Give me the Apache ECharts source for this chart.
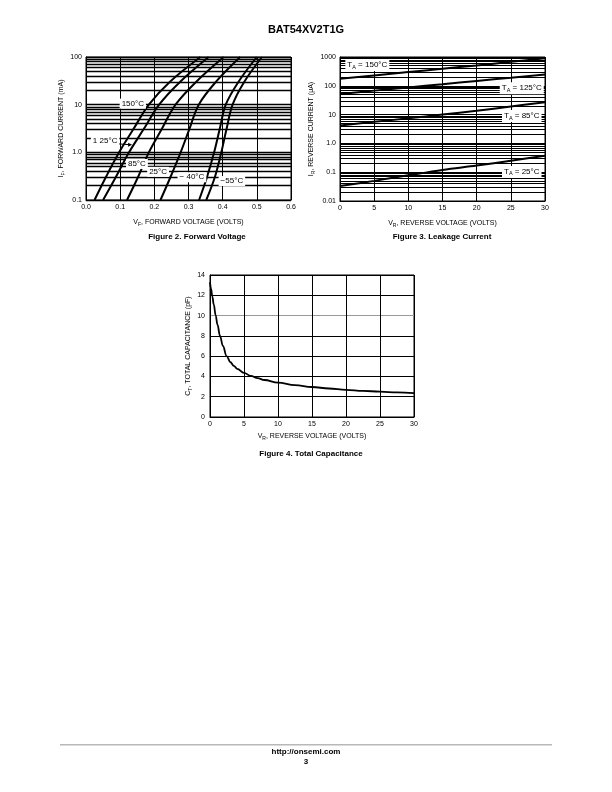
<!DOCTYPE html>
<html><head><meta charset="utf-8">
<script src="https://cdn.jsdelivr.net/npm/echarts@6/dist/echarts.min.js"></script>
<style>html,body{margin:0;padding:0;background:#fff}#c{width:612px;height:792px}</style>
</head><body><div id="c"></div>
<script>
// ---- Figure 2: Forward Voltage (V at given currents, mA)
const fvCurrents = [0.1, 0.3, 1, 3, 10, 30, 100];
const fv150 = [0.025, 0.058, 0.097, 0.138, 0.184, 0.245, 0.335];
const fv125 = [0.050, 0.087, 0.126, 0.168, 0.214, 0.275, 0.359];
const fv85  = [0.120, 0.152, 0.184, 0.221, 0.262, 0.322, 0.403];
const fv25  = [0.218, 0.247, 0.277, 0.302, 0.330, 0.380, 0.451];
const fvM40 = [0.331, 0.354, 0.375, 0.391, 0.409, 0.446, 0.500];
const fvM55 = [0.352, 0.377, 0.396, 0.411, 0.429, 0.463, 0.515];
const fvTicks = ['0.0','0.1','0.2','0.3','0.4','0.5','0.6'];
const ifTicks = {0.1:'0.1', 1:'1.0', 10:'10', 100:'100'};

// ---- Figure 3: Leakage Current (uA vs V)
const lcVoltage = [0, 5, 10, 15, 20, 25, 30];
const lc150 = [175, 230, 300, 390, 510, 680, 900];
const lc125 = [52, 68, 88, 113, 148, 190, 245];
const lc85  = [4.2, 5.6, 7.4, 10, 13.5, 19, 27];
const lc25  = [0.033, 0.05, 0.078, 0.12, 0.17, 0.25, 0.37];
const irTicks = {0.01:'0.01', 0.1:'0.1', 1:'1.0', 10:'10', 100:'100', 1000:'1000'};

// ---- Figure 4: Total Capacitance (pF vs V)
const capVoltage = [0, 0.15, 0.34, 0.55, 0.84, 1.1, 1.47, 1.9, 2.45, 3, 3.5, 4, 5, 6, 7, 8, 10, 12.5, 15, 17.5, 20, 22.5, 25, 27.5, 30];
const capValue   = [13.3, 12.65, 11.9, 11.1, 10.0, 9.1, 8.0, 7.0, 6.0, 5.4, 5.05, 4.75, 4.35, 4.05, 3.83, 3.65, 3.38, 3.14, 2.96, 2.81, 2.68, 2.58, 2.5, 2.42, 2.35];

const FONT = "'Liberation Sans', Arial, Helvetica, sans-serif";
const chart = echarts.init(document.getElementById('c'), null, {renderer: 'canvas'});

function minorVals(lo, hi) {
  const out = [];
  for (let d = lo; d < hi; d *= 10) {
    for (let k = 1; k <= 10; k++) out.push(+(d * k).toPrecision(6));
  }
  return Array.from(new Set(out)).filter(v => v >= lo && v <= hi);
}
function pairs(xs, ys) { return xs.map((x, i) => [x, ys[i]]); }

const rich = {
  a: {fontFamily: FONT, fontSize: 7, color: '#000', lineHeight: 10},
  s: {fontFamily: FONT, fontSize: 5, color: '#000', lineHeight: 10, verticalAlign: 'bottom', padding: [4, 0, 0, 0]}
};
const axisLbl = {fontFamily: FONT, fontSize: 7, color: '#000'};
const blackLine = {lineStyle: {color: '#000', width: 1}};

function gridLineSeries(xi, yi, vals, width) {
  return {
    type: 'line', xAxisIndex: xi, yAxisIndex: yi, data: [], silent: true, z: 1,
    markLine: {
      silent: true, symbol: ['none', 'none'], animation: false,
      label: {show: false},
      lineStyle: {color: '#000', width: width, type: 'solid'},
      emphasis: {disabled: true},
      data: vals.map(v => ({yAxis: v}))
    }
  };
}
function curve(xi, yi, data, w, extra) {
  return Object.assign({type: 'line', xAxisIndex: xi, yAxisIndex: yi, data: data, smooth: 0.35, showSymbol: false,
    symbol: 'none', lineStyle: {color: '#000', width: w}, z: 5, silent: true, animation: false}, extra || {});
}

const option = {
  animation: false,
  grid: [
    {left: 86, top: 57, width: 205, height: 143, show: true, borderColor: '#000', borderWidth: 1, backgroundColor: 'transparent'},
    {left: 340, top: 57, width: 205, height: 144, show: true, borderColor: '#000', borderWidth: 1, backgroundColor: 'transparent'},
    {left: 210, top: 275, width: 204, height: 142, show: true, borderColor: '#000', borderWidth: 1, backgroundColor: 'transparent'}
  ],
  xAxis: [
    {gridIndex: 0, type: 'value', min: 0, max: 0.6, interval: 0.1,
      axisLine: blackLine, axisTick: {show: false},
      axisLabel: Object.assign({margin: 4, formatter: (v) => fvTicks[Math.round(v * 10)]}, axisLbl),
      splitLine: {show: true, lineStyle: {color: '#000', width: 1}},
      name: '{a|V}{s|F}{a|, FORWARD VOLTAGE (VOLTS)}', nameLocation: 'middle', nameGap: 17,
      nameTextStyle: {rich: rich}},
    {gridIndex: 1, type: 'value', min: 0, max: 30, interval: 5,
      axisLine: blackLine, axisTick: {show: false},
      axisLabel: Object.assign({margin: 4}, axisLbl),
      splitLine: {show: true, lineStyle: {color: '#000', width: 1}},
      name: '{a|V}{s|R}{a|, REVERSE VOLTAGE (VOLTS)}', nameLocation: 'middle', nameGap: 17,
      nameTextStyle: {rich: rich}},
    {gridIndex: 2, type: 'value', min: 0, max: 30, interval: 5,
      axisLine: blackLine, axisTick: {show: false},
      axisLabel: Object.assign({margin: 4}, axisLbl),
      splitLine: {show: true, lineStyle: {color: '#000', width: 1}},
      name: '{a|V}{s|R}{a|, REVERSE VOLTAGE (VOLTS)}', nameLocation: 'middle', nameGap: 14,
      nameTextStyle: {rich: rich}}
  ],
  yAxis: [
    {gridIndex: 0, type: 'log', logBase: 10, min: 0.1, max: 100,
      axisLine: blackLine, axisTick: {show: false},
      axisLabel: Object.assign({margin: 4, formatter: (v) => ifTicks[v] || ''}, axisLbl),
      splitLine: {show: false},
      name: '{a|I}{s|F}{a|, FORWARD CURRENT (mA)}', nameLocation: 'middle', nameGap: 14, nameRotate: 90,
      nameTextStyle: {rich: rich}},
    {gridIndex: 1, type: 'log', logBase: 10, min: 0.01, max: 1000,
      axisLine: blackLine, axisTick: {show: false},
      axisLabel: Object.assign({margin: 4, formatter: (v) => irTicks[v] || ''}, axisLbl),
      splitLine: {show: false},
      name: '{a|I}{s|R}{a|, REVERSE CURRENT (\u03bcA)}', nameLocation: 'middle', nameGap: 20, nameRotate: 90,
      nameTextStyle: {rich: rich}},
    {gridIndex: 2, type: 'value', min: 0, max: 14, interval: 2,
      axisLine: blackLine, axisTick: {show: false},
      axisLabel: Object.assign({margin: 5}, axisLbl),
      splitLine: {show: true, lineStyle: {color: ['#000','#000','#000','#000','#000','#999','#000','#000'], width: 1}},
      name: '{a|C}{s|T}{a|, TOTAL CAPACITANCE (pF)}', nameLocation: 'middle', nameGap: 17, nameRotate: 90,
      nameTextStyle: {rich: rich}}
  ],
  series: [
    gridLineSeries(0, 0, minorVals(0.1, 100), 1.3),
    gridLineSeries(1, 1, minorVals(0.01, 1000), 1.1),
    curve(0, 0, pairs(fv150, fvCurrents), 2),
    curve(0, 0, pairs(fv125, fvCurrents), 2),
    curve(0, 0, pairs(fv85, fvCurrents), 2),
    curve(0, 0, pairs(fv25, fvCurrents), 2),
    curve(0, 0, pairs(fvM40, fvCurrents), 2),
    curve(0, 0, pairs(fvM55, fvCurrents), 2),
    curve(1, 1, pairs(lcVoltage, lc150), 2),
    curve(1, 1, pairs(lcVoltage, lc125), 2),
    curve(1, 1, pairs(lcVoltage, lc85), 2),
    curve(1, 1, pairs(lcVoltage, lc25), 2),
    curve(2, 2, pairs(capVoltage, capValue), 1.8, {smooth: 0.4, smoothMonotone: 'x'})
  ]
};
chart.setOption(option);

// ---- annotations (positioned from data coordinates)
function px(g, x, y) { return chart.convertToPixel({gridIndex: g}, [x, y]); }
const lblRich = {
  a: {fontFamily: FONT, fontSize: 8, fill: '#000'},
  s: {fontFamily: FONT, fontSize: 5.5, fill: '#000', padding: [4, 0, 0, 0]}
};
function boxText(p, text) {
  return {type: 'text', x: p[0], y: p[1], z: 50,
    style: {text: text, font: '8px ' + FONT, fill: '#000', align: 'center', verticalAlign: 'middle',
      backgroundColor: '#fff', padding: [1, 2, 1, 2], rich: lblRich}};
}
function plainText(x, y, text, size) {
  return {type: 'text', x: x, y: y, z: 50,
    style: {text: text, font: 'bold ' + size + 'px ' + FONT, fill: '#000', align: 'center', verticalAlign: 'middle'}};
}
const g = [];
g.push(boxText(px(0, 0.137, 10.5), '150°C'));
g.push(boxText(px(0, 0.056, 1.75), '1 25°C'));
g.push(boxText(px(0, 0.149, 0.57), '85°C'));
g.push(boxText(px(0, 0.211, 0.39), '25°C'));
g.push(boxText(px(0, 0.31, 0.30), '\u2212 40°C'));
g.push(boxText(px(0, 0.427, 0.25), '\u221255°C'));
// arrow for 125°C
const a0 = px(0, 0.097, 1.5), a1 = px(0, 0.135, 1.45);
g.push({type: 'line', z: 51, shape: {x1: a0[0], y1: a0[1], x2: a1[0] - 3, y2: a1[1]}, style: {stroke: '#000', lineWidth: 1}});
g.push({type: 'polygon', z: 51, shape: {points: [[a1[0], a1[1]], [a1[0] - 4, a1[1] - 2], [a1[0] - 4, a1[1] + 2]]}, style: {fill: '#000'}});
// Figure 3 labels
g.push(boxText(px(1, 4.0, 525), '{a|T}{s|A}{a| = 150°C}'));
g.push(boxText(px(1, 26.6, 83), '{a|T}{s|A}{a| = 125°C}'));
g.push(boxText(px(1, 26.6, 8.9), '{a|T}{s|A}{a| = 85°C}'));
g.push(boxText(px(1, 26.6, 0.102), '{a|T}{s|A}{a| = 25°C}'));
// titles / captions / footer
g.push(plainText(306, 30, 'BAT54XV2T1G', 11));
g.push(plainText(197, 237, 'Figure 2. Forward Voltage', 8));
g.push(plainText(442, 237, 'Figure 3. Leakage Current', 8));
g.push(plainText(311, 454, 'Figure 4. Total Capacitance', 8));
g.push(plainText(306, 752, 'http://onsemi.com', 8));
g.push(plainText(306, 762, '3', 8));
g.push({type: 'rect', z: 1, shape: {x: 60, y: 744, width: 492, height: 1.5}, style: {fill: '#b8b8b8'}});
chart.setOption({graphic: g});
</script>
</body></html>
